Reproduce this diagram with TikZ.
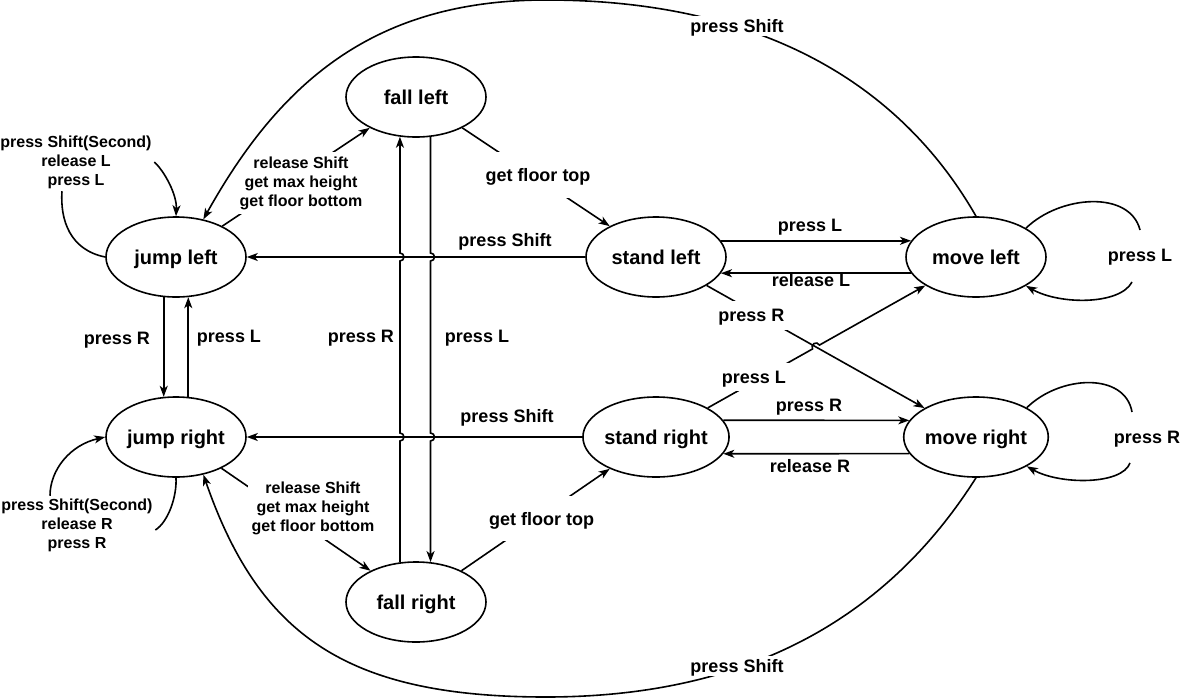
\documentclass[tikz,border=0pt]{standalone}
\usepackage{fontspec}
\setmainfont{Liberation Sans}
\usetikzlibrary{shapes.geometric,arrows.meta,calc,intersections}
\begin{document}
\begin{tikzpicture}[x=1pt,y=-1pt,line width=1.6pt,
  st/.style={ellipse,draw,minimum width=140pt,minimum height=80pt,inner sep=0pt,text depth=0pt,font=\fontsize{20}{24}\selectfont\bfseries},
  arr/.style={-{Stealth[length=11pt,width=8pt,inset=3pt]}},
  lbl/.style={font=\fontsize{18}{21}\selectfont\bfseries,inner sep=2pt,text depth=0pt},
  lblw/.style={lbl,fill=white,inner sep=3pt},
  sm/.style={font=\fontsize{16}{19}\selectfont\bfseries,align=center,inner sep=2pt},
  smw/.style={sm,fill=white,inner xsep=4pt,inner ysep=5pt},
  ftw/.style={lbl,fill=white,inner xsep=4pt,inner ysep=16pt},
  dw/.style={lbl,fill=white,inner sep=8pt}]
\fill[white] (0,0) rectangle (1181,699);
\useasboundingbox (0,0) rectangle (1181,699);

% states
\node[st] (fl) at (416,97) {fall left};
\node[st] (jl) at (176,257) {jump left};
\node[st] (jr) at (176,437) {jump right};
\node[st] (sl) at (656,257) {stand left};
\node[st] (sr) at (656,437) {stand right};
\node[st] (ml) at (976,257) {move left};
\node[st] (mr) at (976,437) {move right};
\node[st] (fr) at (416,602) {fall right};

% stand -> jump (press Shift)
\draw[arr] (sl) -- (jl);
\draw[arr] (sr) -- (jr);
\node[lbl] (tA) at (505,240) {press Shift};
\node[lbl] (tB) at (507,416) {press Shift};

% stand <-> move
\draw[arr] (sl.14) -- (ml.166);
\draw[arr] (ml.194) -- (sl.346);
\draw[arr] (sr.14) -- (mr.166);
\draw[arr] (mr.194) -- (sr.346);
\node[lbl] (tC) at (810,225) {press L};
\node[lbl] (tD) at (811,280) {release L};
\node[lbl] (tE) at (809,405) {press R};
\node[lbl] (tF) at (810,466) {release R};

% jump left <-> jump right
\draw[arr] (jl.253) -- (jr.107);
\draw[arr] (jr.73) -- (jl.287);
\node[lbl] (tG) at (117,338) {press R};
\node[lbl] (tH) at (229,336) {press L};

% fall right <-> fall left with line jumps
\draw[arr] (fr.112) -- ($(fr.112 |- sr.center)+(0,4)$) arc[start angle=90,end angle=-90,radius=4]
  -- ($(fr.112 |- sl.center)+(0,4)$) arc[start angle=90,end angle=-90,radius=4] -- (fl.248);
\draw[arr] (fl.290) -- ($(fl.290 |- sl.center)+(0,-4)$) arc[start angle=-90,end angle=90,radius=4]
  -- ($(fl.290 |- sr.center)+(0,-4)$) arc[start angle=-90,end angle=90,radius=4] -- (fr.70);
\node[lbl] (tI) at (361,336) {press R};
\node[lbl] (tJ) at (477,336) {press L};

% jump -> fall, fall -> stand
\draw[arr] (jl) -- node[smw,xshift=5pt,yshift=-6pt] (mA) {release Shift\\get max height\\get floor bottom} (fl);
\draw[arr] (jr) -- node[smw,xshift=17pt,yshift=11pt] (mB) {release Shift\\get max height\\get floor bottom} (fr);
\draw[arr] (fl) -- node[ftw,xshift=2pt,yshift=2pt] (mC) {get floor top} (sl);
\draw[arr] (fr) -- node[ftw,xshift=6pt,yshift=1pt] (mD) {get floor top} (sr);

% diagonals stand -> move
\draw[arr] (sl) -- node[dw,pos=0.205,yshift=-5pt] (mE) {press R} (mr);
\path[name path=pR] (sl) -- (mr);
\path[name path=pL] (sr) -- (ml);
\path[name intersections={of=pR and pL,by=X}];
\coordinate (Xa) at ($(X)!4pt!(sr)$);
\coordinate (Xb) at ($(X)!4pt!(ml)$);
\draw[arr] (sr) -- node[dw,pos=0.44,yshift=5pt] (mF) {press L} (Xa)
  .. controls ($(Xa)!5.3pt!90:(Xb)$) and ($(Xb)!5.3pt!-90:(Xa)$) .. (Xb) -- (ml);

% self loops on jump states
\node[sm] (lG) at (76,162) {press Shift(Second)\\release L\\press L};
\draw (jl.west) .. controls (70,250) and (60,220) .. ([xshift=-14pt]lG.south);
\draw[arr] (lG.east) .. controls (165,172) and (177,195) .. (jl.north);
\node[sm] (lH) at (77,525) {press Shift(Second)\\release R\\press R};
\draw (jr.south) .. controls (177,497) and (168,522) .. ([yshift=-5pt]lH.east);
\draw[arr] ([xshift=-27pt]lH.north) .. controls (50,470) and (70,445) .. (jr.west);

% self loops on move states
\node[lbl] (lI) at (1140,255) {press L};
\draw (ml.30) .. controls (1060,195) and (1130,190) .. ([yshift=25pt]lI.center);
\draw[arr] ([xshift=-8pt,yshift=-27pt]lI.center) .. controls (1120,305) and (1060,305) .. (ml.330);
\node[lbl] (lJ) at (1147,437) {press R};
\draw (mr.30) .. controls (1060,375) and (1125,372) .. ([xshift=-15pt,yshift=25pt]lJ.center);
\draw[arr] ([xshift=-17pt,yshift=-26pt]lJ.center) .. controls (1122,485) and (1060,485) .. (mr.330);

% big arcs move -> jump
\draw[arr] (ml.north) .. controls (902,87) and (766,0) .. (546,0) .. controls (376,0) and (281,80) .. (jl.54);
\draw[arr] (mr.south) .. controls (896,604) and (766,697) .. (546,697) .. controls (346,697) and (259,635) .. (jr.306);
\node[lblw] (tK) at (737,26) {press Shift};
\node[lblw] (tL) at (737,666) {press Shift};
\end{tikzpicture}
\end{document}
